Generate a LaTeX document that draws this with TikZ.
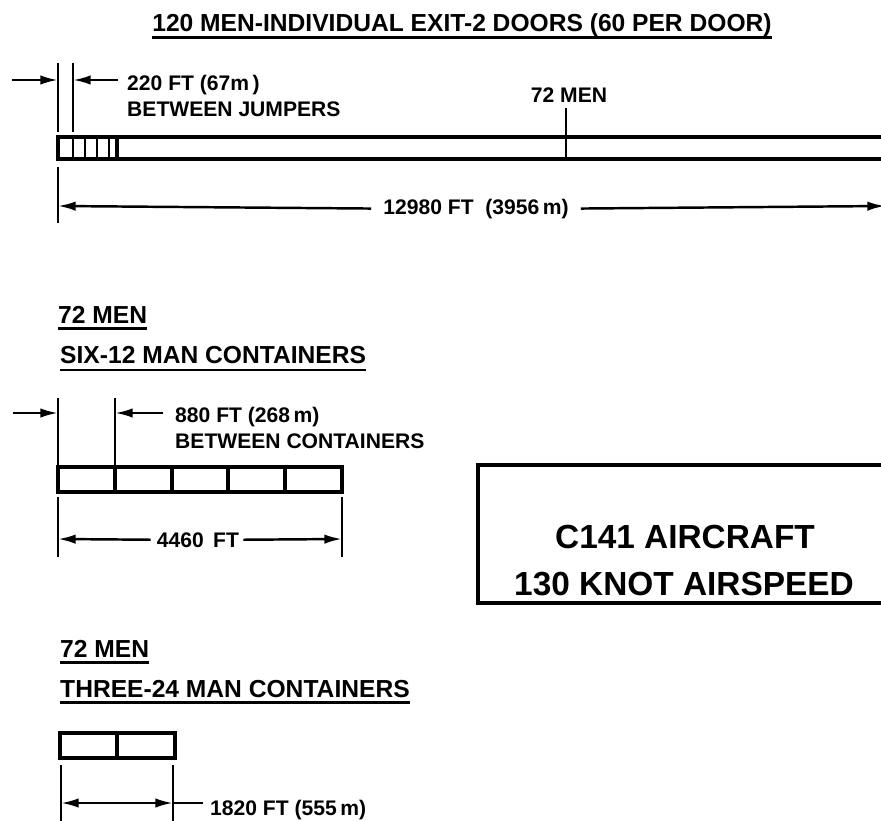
\documentclass[tikz,border=0pt]{standalone}
\usepackage{fontspec}
\setmainfont{Liberation Sans}
\usetikzlibrary{arrows.meta}

\tikzset{
  lbl/.style={font=\bfseries\fontsize{18}{20}\selectfont, inner sep=0pt},
  hdr/.style={font=\bfseries\fontsize{21}{24}\selectfont, inner sep=0pt},
  bigtxt/.style={font=\bfseries\fontsize{28.5}{32}\selectfont, inner sep=0pt},
  bar/.style={line width=2.6pt},
  dim/.style={line width=2.1pt},
  dimarrow/.style={dim, -{Latex[length=15pt,width=8pt]}},
  uline/.style={line width=2.4pt},
}

\begin{document}
\begin{tikzpicture}[x=0.03cm, y=-0.03cm]
  \useasboundingbox (0,0) rectangle (881,820);
  \clip (0,0) rectangle (881,820);

  % --- individual exit ---
  \node[hdr, anchor=base] (title) at (462,32) {120 MEN-INDIVIDUAL EXIT-2 DOORS (60 PER DOOR)};
  \draw[uline] ([yshift=-5pt]title.base west) -- ([yshift=-5pt]title.base east);

  \coordinate (ja) at (58,80);
  \coordinate (jb) at (73,80);
  \coordinate (jl) at (12,80);
  \coordinate (jr) at (118,80);
  \draw[dim] (58,63) -- (58,132);
  \draw[dim] (73,63) -- (73,132);
  \draw[dimarrow] (jl) -- (ja);
  \draw[dimarrow] (jr) -- (jb);
  \node[lbl, anchor=base west] (jgap) at (127,91) {220 FT (67m\,)};
  \node[lbl, anchor=base west] (jtxt) at (127,117) {BETWEEN JUMPERS};

  \draw[bar] (58,137) rectangle (900,159);
  \foreach \x in {73,85,97,109} {
    \draw[line width=2pt] (\x,137) -- (\x,159);
  }
  \draw[line width=3pt] (117,137) -- (117,159);

  \node[lbl, anchor=base] (mid) at (569,103) {72 MEN};
  \coordinate (tk) at (566,108);
  \coordinate (tb) at (566,159);
  \draw[dim] (tk) -- (tb);

  \draw[dim] (58,167) -- (58,223);
  \node[lbl, anchor=base] (jlen) at (476,214) {12980 FT \ (3956\,m)};
  \coordinate (ll) at (58,206);
  \coordinate (lr) at (885,206);
  \draw[dimarrow] (jlen.west) ++(-12,0) coordinate (l1) -- (ll);
  \draw[dimarrow] (jlen.east) ++(12,0) coordinate (l2) -- (lr);

  % --- six containers ---
  \node[hdr, anchor=base west] (h1) at (58,323) {72 MEN};
  \draw[uline] ([yshift=-5pt]h1.base west) -- ([yshift=-5pt]h1.base east);
  \node[hdr, anchor=base west] (h2) at (60,363) {SIX-12 MAN CONTAINERS};
  \draw[uline] ([yshift=-6pt]h2.base west) -- ([yshift=-6pt]h2.base east);

  \coordinate (ca) at (58,413);
  \coordinate (cb) at (115,413);
  \coordinate (cl) at (13,413);
  \coordinate (cr) at (163,413);
  \draw[dim] (58,398) -- (58,465);
  \draw[dim] (115,398) -- (115,465);
  \draw[dimarrow] (cl) -- (ca);
  \draw[dimarrow] (cr) -- (cb);
  \node[lbl, anchor=base west] (cgap) at (175,422) {880 FT (268\,m)};
  \node[lbl, anchor=base west] (ctxt) at (175,448) {BETWEEN CONTAINERS};

  \draw[bar] (58,467) rectangle (342,492);
  \foreach \x in {115,172,228,285} {
    \draw[bar] (\x,467) -- (\x,492);
  }

  \draw[dim] (58,497) -- (58,557);
  \draw[dim] (342,497) -- (342,557);
  \node[lbl, anchor=base] (clen) at (198,547) {4460 \,FT};
  \coordinate (c1) at (58,539);
  \coordinate (c2) at (342,539);
  \draw[dimarrow] (clen.west) ++(-6,0) -- (c1);
  \draw[dimarrow] (clen.east) ++(4,0) -- (c2);

  % --- aircraft box ---
  \draw[bar] (900,465) -- (478,465) -- (478,603) -- (900,603);
  \node[bigtxt, anchor=base] (ac1) at (685,548) {C141 AIRCRAFT};
  \node[bigtxt, anchor=base] (ac2) at (684,595) {130 KNOT AIRSPEED};

  % --- three containers ---
  \node[hdr, anchor=base west] (h3) at (60,657) {72 MEN};
  \draw[uline] ([yshift=-5pt]h3.base west) -- ([yshift=-5pt]h3.base east);
  \node[hdr, anchor=base west] (h4) at (60,697) {THREE-24 MAN CONTAINERS};
  \draw[uline] ([yshift=-5pt]h4.base west) -- ([yshift=-5pt]h4.base east);

  \draw[bar] (60,733) rectangle (175,758);
  \draw[bar] (117,733) -- (117,758);

  \draw[dim] (61,765) -- (61,830);
  \draw[dim] (173,765) -- (173,830);
  \coordinate (t1) at (61,803);
  \coordinate (t2) at (173,803);
  \coordinate (tm) at (117,803);
  \coordinate (t3) at (203,803);
  \draw[dimarrow] (tm) -- (t1);
  \draw[dimarrow] (tm) -- (t2);
  \draw[dim] (t2) -- (t3);
  \node[lbl, anchor=base west] (tlen) at (210,815) {1820 FT (555\,m)};
\end{tikzpicture}
\end{document}
